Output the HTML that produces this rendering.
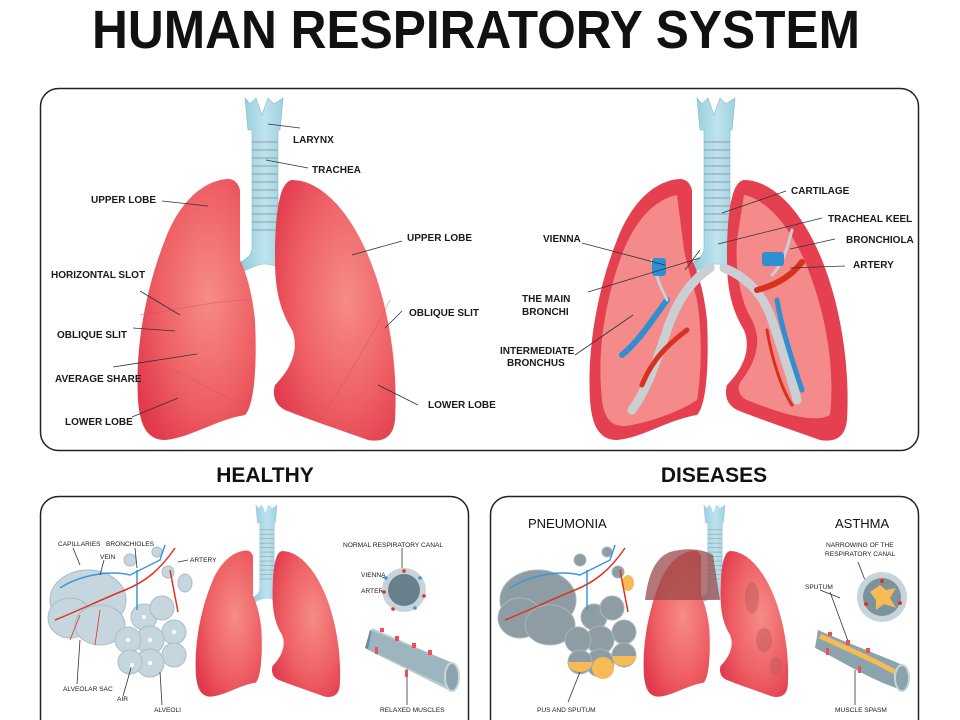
<!DOCTYPE html>
<html><head><meta charset="utf-8"><style>
html,body{margin:0;padding:0;background:#fff;}
svg{display:block;font-family:"Liberation Sans",sans-serif;}
.l{font-size:10px;font-weight:bold;fill:#1a1a1a;}
.s{font-size:6.6px;fill:#1a1a1a;}
.ln{stroke:#333;stroke-width:0.8;fill:none;}
</style></head><body>
<svg width="960" height="720" viewBox="0 0 960 720" xmlns="http://www.w3.org/2000/svg">
<defs>
<radialGradient id="lg" cx="0.6" cy="0.45" r="0.7">
<stop offset="0" stop-color="#f68c86"/><stop offset="0.6" stop-color="#ee5f64"/><stop offset="1" stop-color="#e0394c"/></radialGradient>
<linearGradient id="tg" x1="0" x2="1"><stop offset="0" stop-color="#8cc9da"/><stop offset="0.5" stop-color="#bfe3ee"/><stop offset="1" stop-color="#8cc9da"/></linearGradient>
<g id="trachea">
<path d="M245,98 L250,104 L256,98 L262,115 L268,98 L274,104 L283,98 L280,130 L278,130 L278,248 C278,256 285,260 292,264 L288,272 C280,268 272,264 265,264 C258,264 250,268 242,272 L238,264 C245,260 252,256 252,248 L252,130 L248,130 Z" fill="url(#tg)" stroke="#7fb8c9" stroke-width="0.6"/>
<g stroke="#9aa8ae" stroke-width="1.3">
<line x1="252" y1="142" x2="278" y2="142"/><line x1="252" y1="150" x2="278" y2="150"/><line x1="252" y1="158" x2="278" y2="158"/><line x1="252" y1="166" x2="278" y2="166"/><line x1="252" y1="174" x2="278" y2="174"/><line x1="252" y1="182" x2="278" y2="182"/><line x1="252" y1="190" x2="278" y2="190"/><line x1="252" y1="198" x2="278" y2="198"/><line x1="252" y1="206" x2="278" y2="206"/><line x1="252" y1="214" x2="278" y2="214"/><line x1="252" y1="222" x2="278" y2="222"/><line x1="252" y1="230" x2="278" y2="230"/></g>
</g>
<path id="lungL" d="M228,179 C205,180 180,200 165,240 C145,290 135,350 138,400 C140,430 150,440 165,440 C190,438 215,420 245,415 C255,405 257,360 255,320 C252,290 245,270 240,260 L240,190 C238,182 233,179 228,179 Z"/>
<path id="lungR" d="M292,180 C320,180 350,210 370,260 C390,310 398,370 395,420 C393,440 380,442 368,440 C340,430 310,420 285,410 C275,405 272,395 275,385 C290,370 300,350 292,330 C280,310 275,290 275,260 C275,220 278,182 292,180 Z"/>
<g id="pair">
<use href="#trachea"/>
<use href="#lungL" fill="url(#lg)"/>
<use href="#lungR" fill="url(#lg)"/>
</g>
</defs>

<text x="476" y="48" text-anchor="middle" font-size="54" font-weight="bold" textLength="768" lengthAdjust="spacingAndGlyphs" fill="#111">HUMAN RESPIRATORY SYSTEM</text>

<rect x="40.5" y="88.5" width="878" height="362" rx="18" fill="none" stroke="#222" stroke-width="1.5"/>

<use href="#pair"/>
<g fill="none" stroke="#d8505a" stroke-width="0.8" opacity="0.6">
<path d="M140,315 C180,310 215,300 250,300"/><path d="M145,360 C185,370 215,395 245,405"/>
<path d="M390,300 C370,340 340,390 320,420"/></g>

<g class="ln">
<line x1="268" y1="124" x2="300" y2="128"/><line x1="266" y1="160" x2="308" y2="168"/>
<line x1="162" y1="201" x2="208" y2="206"/><line x1="140" y1="291" x2="180" y2="315"/>
<line x1="133" y1="328" x2="175" y2="331"/><line x1="113" y1="367" x2="197" y2="354"/>
<line x1="132" y1="417" x2="178" y2="398"/><line x1="402" y1="241" x2="352" y2="255"/>
<line x1="402" y1="311" x2="385" y2="328"/><line x1="418" y1="405" x2="378" y2="385"/>
</g>
<text class="l" x="293" y="143">LARYNX</text>
<text class="l" x="312" y="173">TRACHEA</text>
<text class="l" x="91" y="203">UPPER LOBE</text>
<text class="l" x="51" y="278">HORIZONTAL SLOT</text>
<text class="l" x="57" y="338">OBLIQUE SLIT</text>
<text class="l" x="55" y="382">AVERAGE SHARE</text>
<text class="l" x="65" y="425">LOWER LOBE</text>
<text class="l" x="407" y="241">UPPER LOBE</text>
<text class="l" x="409" y="316">OBLIQUE SLIT</text>
<text class="l" x="428" y="408">LOWER LOBE</text>

<g transform="translate(452,0)">
<use href="#trachea"/>
<use href="#lungL" fill="#e5404f"/>
<use href="#lungR" fill="#e5404f"/>
<path d="M225,195 C200,200 180,225 168,260 C152,305 145,355 150,400 C153,425 165,428 180,425 C205,420 230,410 245,400 C250,370 250,330 245,300 C240,280 235,265 232,250 Z" fill="#f48a8a"/>
<path d="M292,195 C318,200 345,235 360,280 C378,330 382,380 378,415 C360,425 320,410 295,400 C285,395 285,385 290,380 C305,360 310,340 300,320 C288,300 283,270 285,240 Z" fill="#f48a8a"/>
<g fill="none" stroke-linecap="round">
<path d="M258,268 C240,280 225,300 215,330 C205,360 195,390 180,410" stroke="#c9cfd2" stroke-width="9"/>
<path d="M272,268 C290,275 310,290 320,320 C330,350 340,380 345,400" stroke="#c9cfd2" stroke-width="9"/>
<path d="M215,300 C200,320 188,340 170,355" stroke="#2f8fd0" stroke-width="6"/>
<path d="M235,330 C215,345 200,360 190,385" stroke="#d8321e" stroke-width="5"/>
<path d="M325,300 C330,330 340,360 350,390" stroke="#2f8fd0" stroke-width="5"/>
<path d="M305,290 C325,285 340,275 350,262" stroke="#d8321e" stroke-width="6"/>
<path d="M315,330 C320,360 330,390 340,405" stroke="#d8321e" stroke-width="3"/>
<path d="M200,260 C205,280 210,290 215,300" stroke="#c9cfd2" stroke-width="3"/>
<path d="M340,230 C335,250 330,265 320,275" stroke="#c9cfd2" stroke-width="3"/>
</g>
<rect x="200" y="258" width="14" height="18" fill="#2f8fd0" rx="3"/>
<rect x="310" y="252" width="22" height="14" fill="#2f8fd0" rx="3"/>
</g>
<g class="ln">
<line x1="786" y1="191" x2="722" y2="213"/><line x1="822" y1="218" x2="718" y2="244"/>
<line x1="835" y1="239" x2="790" y2="249"/><line x1="845" y1="266" x2="790" y2="268"/>
<line x1="582" y1="243" x2="665" y2="265"/><line x1="588" y1="292" x2="700" y2="258"/>
<line x1="575" y1="355" x2="633" y2="315"/><line x1="685" y1="270" x2="700" y2="250"/>
</g>
<text class="l" x="791" y="194">CARTILAGE</text>
<text class="l" x="828" y="222">TRACHEAL KEEL</text>
<text class="l" x="543" y="242">VIENNA</text>
<text class="l" x="846" y="243">BRONCHIOLA</text>
<text class="l" x="853" y="268">ARTERY</text>
<text class="l" x="522" y="302">THE MAIN</text>
<text class="l" x="522" y="315">BRONCHI</text>
<text class="l" x="500" y="354">INTERMEDIATE</text>
<text class="l" x="507" y="366">BRONCHUS</text>

<text x="265" y="482" text-anchor="middle" font-size="21" font-weight="bold" fill="#111">HEALTHY</text>
<text x="714" y="482" text-anchor="middle" font-size="21" font-weight="bold" fill="#111">DISEASES</text>

<rect x="40.5" y="496.5" width="428" height="240" rx="18" fill="none" stroke="#222" stroke-width="1.5"/>
<rect x="490.5" y="496.5" width="428" height="240" rx="18" fill="none" stroke="#222" stroke-width="1.5"/>

<g transform="translate(267,551) scale(0.56) translate(-265,-180)"><use href="#pair"/></g>
<g fill="#c6d6de" stroke="#a9bcc6">
<ellipse cx="88" cy="600" rx="38" ry="30"/><ellipse cx="70" cy="618" rx="22" ry="20"/><ellipse cx="100" cy="625" rx="25" ry="20"/>
<circle cx="130" cy="560" r="6"/><circle cx="157" cy="552" r="5"/><circle cx="168" cy="572" r="6"/>
<circle cx="144" cy="617" r="13"/><circle cx="162" cy="608" r="12"/><circle cx="174" cy="632" r="12"/><circle cx="150" cy="640" r="14"/><circle cx="128" cy="640" r="13"/><circle cx="174" cy="655" r="12"/><circle cx="150" cy="663" r="14"/><circle cx="130" cy="662" r="12"/>
<ellipse cx="185" cy="583" rx="7" ry="9"/>
</g>
<g fill="#fff"><circle cx="144" cy="617" r="2"/><circle cx="150" cy="640" r="2"/><circle cx="128" cy="640" r="2"/><circle cx="150" cy="663" r="2"/><circle cx="132" cy="665" r="2"/><circle cx="174" cy="632" r="2"/></g>
<g fill="none" stroke-width="1.5">
<path d="M60,588 C80,575 110,570 130,575 L160,560 L165,545" stroke="#3a98d8"/>
<path d="M137,570 L137,610" stroke="#3a98d8"/>
<path d="M55,620 C80,610 100,600 125,590 C145,582 160,570 175,548" stroke="#e0321e"/>
<path d="M170,570 L178,612" stroke="#e0321e"/>
<path d="M70,640 L80,615 M95,645 L100,610" stroke="#e0321e" stroke-width="0.8"/>
</g>
<g class="ln">
<line x1="73" y1="548" x2="80" y2="565"/><line x1="104" y1="560" x2="100" y2="575"/>
<line x1="135" y1="548" x2="137" y2="568"/><line x1="188" y1="560" x2="178" y2="562"/>
<line x1="77" y1="684" x2="80" y2="640"/><line x1="123" y1="696" x2="131" y2="668"/>
<line x1="162" y1="705" x2="160" y2="672"/><line x1="402" y1="548" x2="402" y2="582"/>
<line x1="385" y1="577" x2="382" y2="578"/><line x1="385" y1="591" x2="381" y2="591"/>
<line x1="407" y1="705" x2="407" y2="668"/>
</g>
<text class="s" x="58" y="546">CAPILLARIES</text>
<text class="s" x="106" y="546">BRONCHIOLES</text>
<text class="s" x="100" y="559">VEIN</text>
<text class="s" x="190" y="562">ARTERY</text>
<text class="s" x="343" y="547">NORMAL RESPIRATORY CANAL</text>
<text class="s" x="361" y="577">VIENNA</text>
<text class="s" x="361" y="593">ARTERY</text>
<text class="s" x="63" y="691">ALVEOLAR SAC</text>
<text class="s" x="117" y="701">AIR</text>
<text class="s" x="154" y="712">ALVEOLI</text>
<text class="s" x="380" y="712">RELAXED MUSCLES</text>
<circle cx="404" cy="590" r="22" fill="#c7d4da"/><circle cx="404" cy="590" r="16" fill="#68808b"/>
<g fill="#e0321e"><circle cx="404" cy="571" r="1.8"/><circle cx="384" cy="592" r="1.8"/><circle cx="424" cy="596" r="1.8"/><circle cx="393" cy="609" r="1.8"/></g>
<g fill="#3a98d8"><circle cx="386" cy="578" r="1.8"/><circle cx="420" cy="578" r="1.8"/><circle cx="415" cy="608" r="1.8"/></g>
<path d="M370,630 L450,662 L455,690 L365,648 Z" fill="#6f8a96"/>
<path d="M372,628 L455,664 C460,672 458,688 452,692 L368,650 Z" fill="#a9bfc8" opacity="0.8"/>
<ellipse cx="452" cy="677" rx="7" ry="14" fill="#8aa3ad" stroke="#c7d4da" stroke-width="2"/>
<g fill="#f15050"><rect x="380" y="628" width="4" height="4"/><rect x="395" y="636" width="4" height="5"/><rect x="412" y="643" width="4" height="5"/><rect x="428" y="650" width="4" height="5"/><rect x="375" y="647" width="3" height="7"/><rect x="405" y="670" width="3" height="7"/></g>

<g transform="translate(715,551) scale(0.56) translate(-265,-180)"><use href="#pair"/></g>
<path d="M670,552 C655,558 648,575 645,600 L720,600 L713,555 C700,548 685,548 670,552 Z" fill="#9b4a4a" opacity="0.75"/>
<g fill="#b95a5a" opacity="0.45"><ellipse cx="752" cy="598" rx="7" ry="16"/><ellipse cx="764" cy="640" rx="8" ry="12"/><ellipse cx="776" cy="666" rx="6" ry="9"/></g>
<text x="528" y="528" font-size="13" fill="#111">PNEUMONIA</text>
<text x="835" y="528" font-size="13" fill="#111">ASTHMA</text>
<g fill="#8e9ca4" stroke="#a9b6bc">
<ellipse cx="538" cy="600" rx="38" ry="30"/><ellipse cx="520" cy="618" rx="22" ry="20"/><ellipse cx="550" cy="625" rx="25" ry="20"/>
<circle cx="580" cy="560" r="6"/><circle cx="607" cy="552" r="5"/><circle cx="618" cy="572" r="6"/>
<circle cx="594" cy="617" r="13"/><circle cx="612" cy="608" r="12"/><circle cx="624" cy="632" r="12"/><circle cx="600" cy="640" r="14"/><circle cx="578" cy="640" r="13"/><circle cx="624" cy="655" r="12"/><circle cx="600" cy="663" r="14"/><circle cx="580" cy="662" r="12"/>
</g>
<g fill="#f6bb55"><path d="M568,662 A12,10 0 0 0 592,662 Z"/><path d="M612,656 A12,10 0 0 0 636,656 Z"/><circle cx="603" cy="668" r="11"/><ellipse cx="628" cy="583" rx="6" ry="8"/></g>
<g fill="none" stroke-width="1.5">
<path d="M510,588 C530,575 560,570 580,575 L610,560 L615,545" stroke="#3a98d8"/>
<path d="M587,570 L587,610" stroke="#3a98d8"/>
<path d="M505,620 C530,610 550,600 575,590 C595,582 610,570 625,548" stroke="#e0321e"/>
<path d="M620,570 L628,612" stroke="#e0321e"/>
</g>
<g class="ln"><line x1="568" y1="702" x2="580" y2="672"/><line x1="858" y1="562" x2="868" y2="588"/>
<line x1="820" y1="590" x2="840" y2="598"/><line x1="830" y1="592" x2="852" y2="652"/><line x1="855" y1="705" x2="855" y2="670"/></g>
<text class="s" x="537" y="712">PUS AND SPUTUM</text>
<text class="s" x="826" y="547">NARROWING OF THE</text>
<text class="s" x="825" y="556">RESPIRATORY CANAL</text>
<text class="s" x="805" y="589">SPUTUM</text>
<text class="s" x="835" y="712">MUSCLE SPASM</text>
<circle cx="882" cy="597" r="25" fill="#c7d4da"/><circle cx="882" cy="597" r="19" fill="#7a939e"/>
<path d="M870,592 L880,585 L886,590 L896,588 L890,598 L896,608 L884,604 L876,610 L876,600 Z" fill="#f6bb55"/>
<g fill="#e0321e"><circle cx="882" cy="581" r="2"/><circle cx="900" cy="603" r="2"/><circle cx="866" cy="604" r="2"/></g>
<path d="M818,630 C840,640 880,655 905,666 L902,690 C870,680 840,660 815,648 Z" fill="#8aa3ad"/>
<path d="M820,636 C845,648 875,660 902,676" stroke="#f6bb55" stroke-width="5" fill="none"/>
<ellipse cx="902" cy="678" rx="7" ry="13" fill="#8aa3ad" stroke="#c7d4da" stroke-width="2"/>
<g fill="#f15050"><rect x="828" y="632" width="4" height="4"/><rect x="846" y="640" width="4" height="5"/><rect x="866" y="648" width="4" height="5"/><rect x="826" y="648" width="3" height="7"/><rect x="858" y="666" width="3" height="7"/></g>
</svg>
</body></html>
